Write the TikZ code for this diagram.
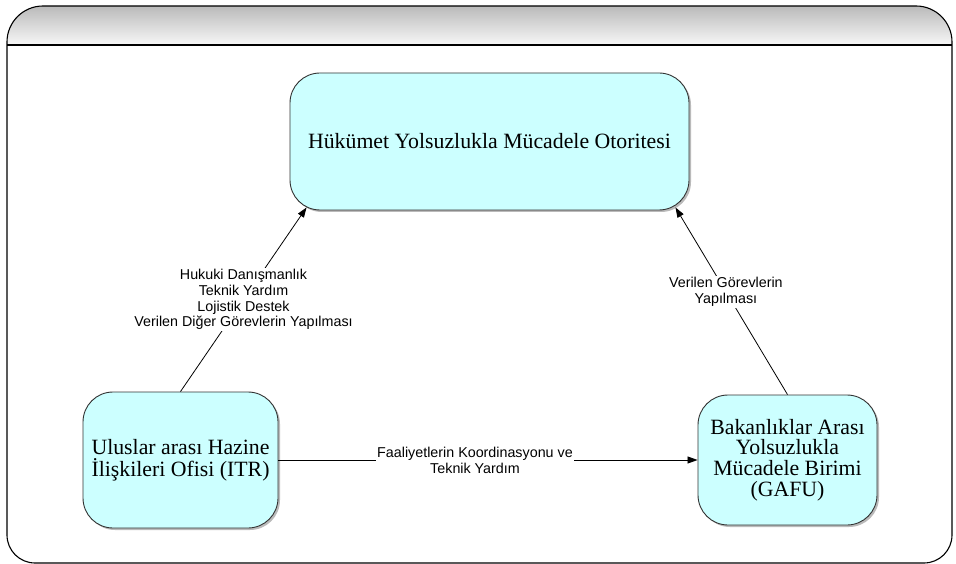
\documentclass[tikz,border=0pt]{standalone}
\usepackage{fontspec}
\setmainfont{Liberation Serif}
\newfontfamily\lblfont{Liberation Sans}
\usetikzlibrary{arrows.meta,shadows,calc}
\definecolor{boxfill}{HTML}{CCFFFF}
\definecolor{boxline}{HTML}{333333}
\tikzset{
  orgbox/.style={draw=boxline, line width=0.9pt, fill=boxfill, rounded corners=30pt,
    align=center, font=\fontsize{21.8}{21.8}\selectfont, inner sep=2pt,
    drop shadow={shadow xshift=2pt, shadow yshift=-2pt, fill=black!45, opacity=0.6}},
  conn/.style={draw=black, line width=0.8pt, -{Triangle[length=10pt,width=7pt]}},
  lbl/.style={fill=white, inner sep=1.5pt, align=center,
    font=\lblfont\fontsize{14.3}{15.8}\selectfont}
}
\begin{document}
\begin{tikzpicture}[x=1pt,y=-1pt]
\useasboundingbox (0,0) rectangle (956,564);
% frame with header
\begin{scope}
  \clip (7,300) [rounded corners=36pt] -- (7,6) -- (952,6) -- (952,300) [rounded corners=28pt] -- (952,563) -- (7,563) -- cycle;
  \shade[top color=black!27, bottom color=black!3] (7,6) rectangle (952,45);
\end{scope}
\draw[line width=1.1pt] (7,300) [rounded corners=36pt] -- (7,6) -- (952,6) -- (952,300) [rounded corners=28pt] -- (952,563) -- (7,563) -- cycle;
\draw[line width=1.1pt] (7,45) -- (952,45);
% boxes
\node[orgbox, minimum width=399pt, minimum height=137pt] (top) at (489.5,141.5)
  {Hükümet Yolsuzlukla Mücadele Otoritesi};
\node[orgbox, minimum width=195pt, minimum height=136pt] (itr) at (180.5,460)
  {Uluslar arası Hazine\\İlişkileri Ofisi (ITR)};
\node[orgbox, minimum width=179pt, minimum height=130pt, font=\fontsize{21.8}{20.7}\selectfont] (gafu) at (787.5,460)
  {Bakanlıklar Arası\\Yolsuzlukla\\Mücadele Birimi\\(GAFU)};
% connector ends on the rounded corners
\coordinate (tl) at ($(top.south west)+(17,-3)$);
\coordinate (tr) at ($(top.south east)+(-14,-3)$);
% connectors
\draw[conn] (itr.north) -- node[lbl, pos=0.5]
  {Hukuki Danışmanlık\\Teknik Yardım\\Lojistik Destek\\Verilen Diğer Görevlerin Yapılması} (tl);
\draw[conn] (gafu.north) -- node[lbl, pos=0.55]
  {Verilen Görevlerin\\Yapılması} (tr);
\draw[conn] (itr.east) -- node[lbl, pos=0.5, xshift=-13pt]
  {Faaliyetlerin Koordinasyonu ve\\Teknik Yardım} (gafu.west);
\end{tikzpicture}
\end{document}
